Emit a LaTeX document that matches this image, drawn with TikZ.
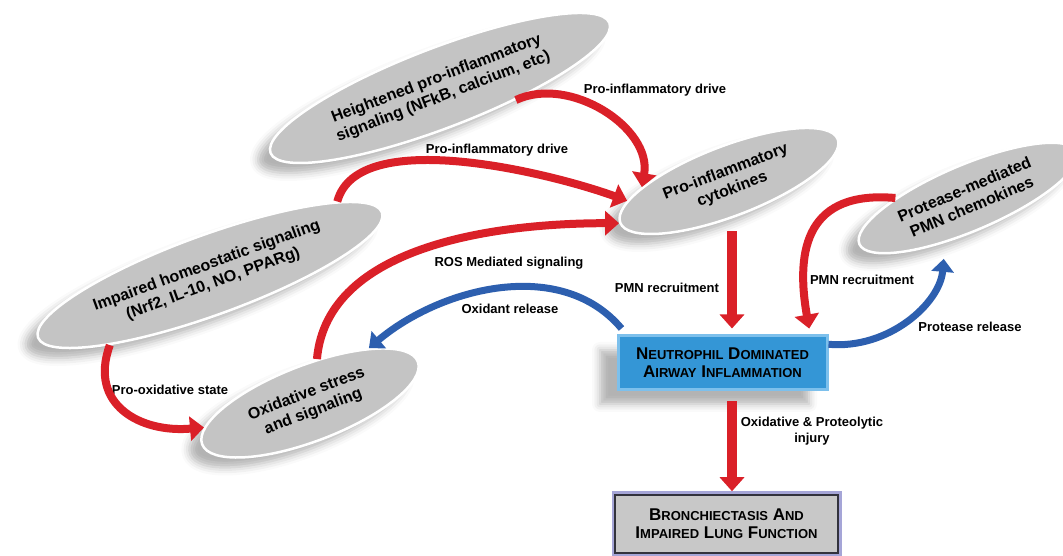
\documentclass[tikz,border=0pt]{standalone}
\usepackage{fontspec}
\setmainfont{Liberation Sans}
\usetikzlibrary{shapes.geometric,arrows.meta,shadows.blur}
\definecolor{arred}{RGB}{218,32,40}
\definecolor{arblue}{RGB}{45,95,175}
\definecolor{boxblue}{RGB}{52,150,214}
\definecolor{ovgray}{RGB}{196,196,196}
\newcommand\fsc[2]{#1{\fontsize{13}{14}\selectfont #2}}
\begin{document}
\begin{tikzpicture}[x=1pt,y=1pt,
  oval/.style={ellipse,fill=ovgray,draw=white,line width=2.5pt,inner sep=0pt,align=center,
    font=\fontsize{16}{19}\selectfont\bfseries,
    blur shadow={shadow xshift=-12pt,shadow yshift=-10pt,shadow opacity=30,shadow blur radius=8pt}},
  lbl/.style={font=\fontsize{13}{16}\selectfont\bfseries,inner sep=0pt,align=center},
  redarr/.style={draw=arred,line width=8pt,-{Triangle[width=24pt,length=14pt]}},
  bluearr/.style={draw=arblue,line width=7pt,-{Triangle[width=22pt,length=13pt]}}]
\useasboundingbox (0,0) rectangle (1063,556);
\node[oval,minimum width=363pt,minimum height=80pt,rotate=21] (het) at (440,468) {Heightened pro-inflammatory\\signaling (NFkB, calcium, etc)};
\node[oval,minimum width=366pt,minimum height=80pt,rotate=20] (imp) at (210,281) {Impaired homeostatic signaling\\(Nrf2, IL-10, NO, PPARg)};
\node[oval,minimum width=233pt,minimum height=70pt,rotate=21] (cyt) at (729,375) {Pro-inflammatory\\cytokines};
\node[oval,minimum width=236pt,minimum height=66pt,rotate=23] (pro) at (968,358) {Protease-mediated\\PMN chemokines};
\node[oval,minimum width=231pt,minimum height=76pt,rotate=21] (oxi) at (310,153) {Oxidative stress\\and signaling};
\node[fill=boxblue,draw={rgb,255:red,125;green,192;blue,236},line width=3pt,minimum width=209pt,minimum height=54pt,
  align=center,font=\fontsize{17}{18}\selectfont\bfseries,
  blur shadow={shadow xshift=-18pt,shadow yshift=-14pt,shadow opacity=30,shadow blur radius=8pt}] (neu) at (722.5,193)
  {\fsc{N}{EUTROPHIL} \fsc{D}{OMINATED}\\\fsc{A}{IRWAY} \fsc{I}{NFLAMMATION}};
\node[fill={rgb,255:red,200;green,200;blue,200},draw={rgb,255:red,50;green,50;blue,60},line width=1.5pt,
  preaction={draw={rgb,255:red,165;green,165;blue,215},line width=7pt},
  minimum width=223pt,minimum height=58pt,align=center,font=\fontsize{17}{18}\selectfont\bfseries] (bro) at (726.5,32)
  {\fsc{B}{RONCHIECTASIS} \fsc{A}{ND}\\\fsc{I}{MPAIRED} \fsc{L}{UNG} \fsc{F}{UNCTION}};
\coordinate (vx) at (732,300);
\node[lbl] (l1) at (655,466) {Pro-inflammatory drive};
\node[lbl] (l2) at (497,406) {Pro-inflammatory drive};
\node[lbl] (l3) at (509,293) {ROS Mediated signaling};
\node[lbl] (l4) at (510,247) {Oxidant release};
\node[lbl] (l5) at (667,268) {PMN recruitment};
\node[lbl] (l6) at (862,276) {PMN recruitment};
\node[lbl] (l7) at (970,229) {Protease release};
\node[lbl] (l8) at (170,166) {Pro-oxidative state};
\node[lbl] (l9) at (812,125) {Oxidative \& Proteolytic\\injury};
\draw[redarr] (het.-30) to[out=25,in=80] (cyt.163);
\draw[redarr] (imp.10) to[out=75,in=160,looseness=0.7] (cyt.170);
\draw[redarr] (oxi.60) to[out=85,in=180,looseness=0.9] (cyt.180);
\draw[redarr,line width=10pt,shorten <=14pt,shorten >=6pt] (cyt.-100 -| vx) -- (neu.north -| vx);
\draw[redarr,line width=10pt,shorten <=10pt,shorten >=3pt] (neu.south -| vx) -- (bro.north -| vx);
\draw[redarr,shorten >=6pt] (pro.157) to[out=175,in=100,looseness=1.4] (neu.18);
\draw[bluearr,shorten >=16pt] (neu.10) to[out=-5,in=-95] (pro.-140);
\draw[bluearr] ([shift={(5pt,6pt)}]neu.north west) to[out=130,in=40,looseness=0.95] (oxi.22);
\draw[redarr] (imp.-165) to[out=-110,in=185,looseness=1.3] (oxi.172);
\end{tikzpicture}
\end{document}
